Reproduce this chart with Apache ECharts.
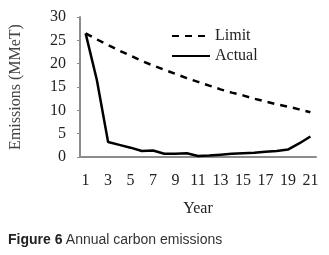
<!DOCTYPE html>
<html><head><meta charset="utf-8">
<script src="https://cdn.jsdelivr.net/npm/echarts@6/dist/echarts.min.js"></script>
<style>html,body{margin:0;padding:0;background:#fff}#c{width:329px;height:255px}</style>
</head><body><div id="c"></div>
<script>
const years = ['1','2','3','4','5','6','7','8','9','10','11','12','13','14','15','16','17','18','19','20','21'];
const limitValues = [26.5,25.2,24.0,22.8,21.7,20.6,19.6,18.7,17.8,16.9,16.1,15.3,14.5,13.8,13.2,12.5,11.9,11.3,10.8,10.2,9.6];
const actualValues = [26.5,16.5,3.2,2.6,2.0,1.3,1.4,0.7,0.7,0.8,0.2,0.3,0.5,0.7,0.8,0.9,1.1,1.3,1.6,2.9,4.4];
const yTicks = [0,5,10,15,20,25,30];

const serif = '"Liberation Serif","Times New Roman",serif';
const chart = echarts.init(document.getElementById('c'), null, {renderer:'canvas'});
chart.setOption({
  animation:false,
  grid:{left:79,right:13,top:17,bottom:98},
  legend:{
    orient:'vertical', left:166, top:23, itemWidth:38, itemHeight:14, itemGap:4,
    itemStyle:{opacity:0},
    textStyle:{fontFamily:serif,fontSize:16,color:'#222',padding:[0,0,0,0]},
    data:['Limit','Actual']
  },
  xAxis:{
    type:'category', data:years, boundaryGap:true,
    name:'Year', nameLocation:'middle', nameGap:44,
    nameTextStyle:{fontFamily:serif,fontSize:16,color:'#222'},
    axisLine:{lineStyle:{color:'#8c8c8c',width:2}},
    axisTick:{show:false},
    axisLabel:{interval:1,fontFamily:serif,fontSize:16,color:'#222',margin:16}
  },
  yAxis:{
    type:'value', min:yTicks[0], max:yTicks[yTicks.length-1], interval:5,
    name:'Emissions (MMeT)', nameLocation:'middle', nameGap:56,
    nameTextStyle:{fontFamily:serif,fontSize:16,color:'#444'},
    axisLine:{show:true,lineStyle:{color:'#8c8c8c',width:2}},
    axisTick:{show:true,length:3,lineStyle:{color:'#8c8c8c'}},
    splitLine:{show:false},
    axisLabel:{fontFamily:serif,fontSize:16,color:'#222',margin:14}
  },
  series:[
    {name:'Limit',type:'line',data:limitValues,showSymbol:false,symbol:'none',
     lineStyle:{color:'#000',width:2.5,type:[7,6]},itemStyle:{color:'#000'}},
    {name:'Actual',type:'line',data:actualValues,showSymbol:false,symbol:'none',
     lineStyle:{color:'#000',width:2.5},itemStyle:{color:'#000'}}
  ],
  graphic:[{
    type:'text', left:8, top:233,
    style:{
      text:'{b|Figure 6} {n|Annual carbon emissions}',
      rich:{
        b:{fontFamily:'"Liberation Sans",Arial,sans-serif',fontWeight:'bold',fontSize:14,fill:'#222'},
        n:{fontFamily:'"Liberation Sans Narrow","Liberation Sans",sans-serif',fontSize:14,fill:'#333'}
      }
    }
  }]
});
</script></body></html>
